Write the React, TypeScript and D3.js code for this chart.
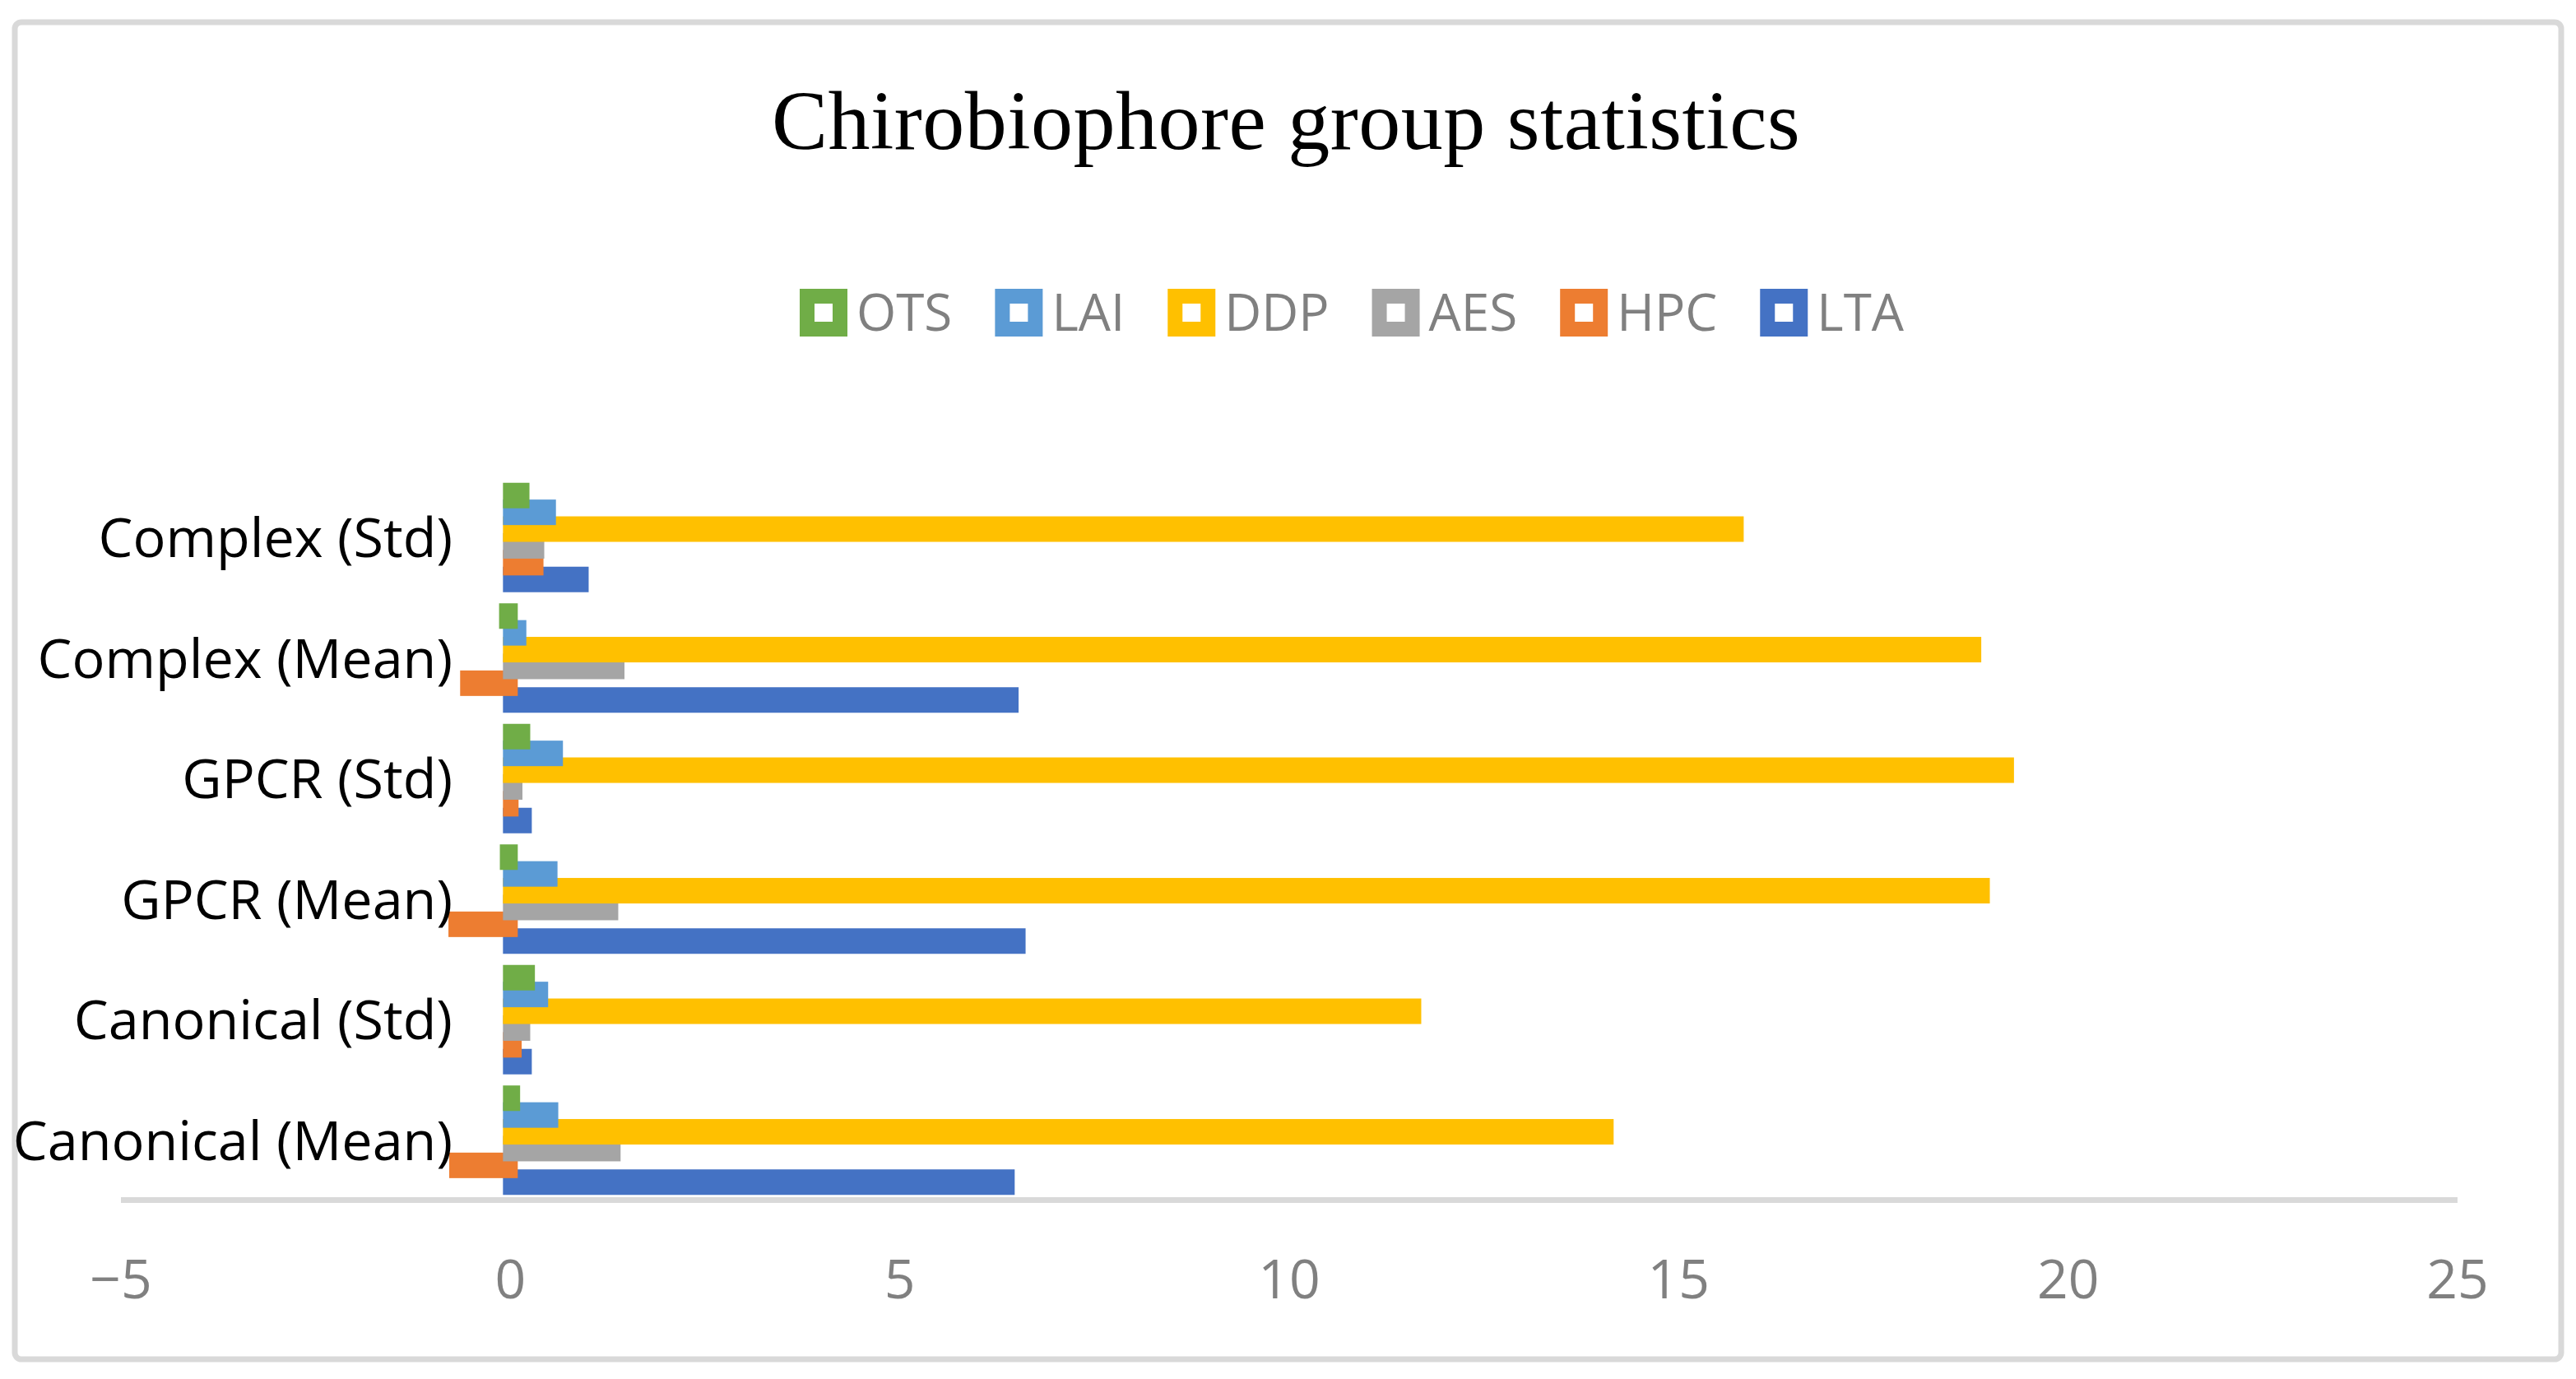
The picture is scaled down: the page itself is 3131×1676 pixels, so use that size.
import React, { useEffect, useRef } from "react";
import * as d3 from "d3";

// Categories in Excel order (first = bottom of the chart)
const categories = [
  "Canonical (Mean)",
  "Canonical (Std)",
  "GPCR (Mean)",
  "GPCR (Std)",
  "Complex (Mean)",
  "Complex (Std)",
];

// Series values, aligned with categories
const LTA = [6.38, 0.18, 6.52, 0.18, 6.43, 0.91];
const HPC = [-0.69, 0.05, -0.7, 0.01, -0.55, 0.33];
const AES = [1.32, 0.16, 1.29, 0.06, 1.37, 0.34];
const DDP = [14.07, 11.6, 18.9, 19.21, 18.79, 15.74];
const LAI = [0.52, 0.39, 0.51, 0.58, 0.11, 0.49];
const OTS = [0.03, 0.22, -0.04, 0.16, -0.05, 0.15];

// Series in drawing order (first drawn lowest in each group)
const seriesNames = ["LTA", "HPC", "AES", "DDP", "LAI", "OTS"];
const seriesValues = [LTA, HPC, AES, DDP, LAI, OTS];
const seriesColors = ["#4472C4", "#ED7D31", "#A5A5A5", "#FFC000", "#5B9BD5", "#70AD47"];

// Legend order as shown
const legendOrder = ["OTS", "LAI", "DDP", "AES", "HPC", "LTA"];

const xTicks = [-5, 0, 5, 10, 15, 20, 25];
const title = "Chirobiophore group statistics";

const W = 3131;
const H = 1676;

export default function App() {
  const ref = useRef<SVGSVGElement | null>(null);

  useEffect(() => {
    const svg = d3.select(ref.current);
    svg.selectAll("*").remove();

    const x = d3.scaleLinear().domain([-5, 25]).range([147, 2987]);
    const y = d3
      .scaleBand<string>()
      .domain(categories.slice().reverse())
      .range([580, 1459])
      .paddingInner(0)
      .paddingOuter(0);
    const inner = d3
      .scaleBand<string>()
      .domain(seriesNames.slice().reverse())
      .range([-61.2, 61.2]);

    const stroke = 18;
    const fillH = 13;
    const colorOf = (s: string) => seriesColors[seriesNames.indexOf(s)];

    // chart border
    svg
      .append("rect")
      .attr("x", 18)
      .attr("y", 27)
      .attr("width", 3095)
      .attr("height", 1625)
      .attr("rx", 8)
      .attr("fill", "#ffffff")
      .attr("stroke", "#d9d9d9")
      .attr("stroke-width", 7);

    // title
    svg
      .append("text")
      .attr("x", 1563)
      .attr("y", 181)
      .attr("text-anchor", "middle")
      .attr("font-family", "'Liberation Serif', 'Times New Roman', serif")
      .attr("font-size", 102)
      .attr("letter-spacing", 0.5)
      .attr("fill", "#000000")
      .text(title);

    // legend
    const lg = svg.append("g");
    let lx = 972;
    const markerOuter = 58;
    const ly = 380;
    legendOrder.forEach((name) => {
      const c = colorOf(name);
      lg.append("rect")
        .attr("x", lx + stroke / 2)
        .attr("y", ly - markerOuter / 2 + stroke / 2)
        .attr("width", markerOuter - stroke)
        .attr("height", markerOuter - stroke)
        .attr("fill", "#ffffff")
        .attr("stroke", c)
        .attr("stroke-width", stroke);
      const t = lg
        .append("text")
        .attr("x", lx + markerOuter + 11)
        .attr("y", ly + 22)
        .attr("font-family", "'Open Sans', sans-serif")
        .attr("font-size", 62)
        .attr("fill", "#808080")
        .text(name);
      const w = (t.node() as SVGTextElement).getComputedTextLength();
      lx = lx + markerOuter + 11 + w + 52;
    });

    // axis line at bottom
    svg
      .append("line")
      .attr("x1", x(-5))
      .attr("x2", x(25))
      .attr("y1", 1458.5)
      .attr("y2", 1458.5)
      .attr("stroke", "#d9d9d9")
      .attr("stroke-width", 7);

    // bars
    const bars = svg.append("g");
    seriesNames.forEach((s, si) => {
      const vals = seriesValues[si];
      const c = seriesColors[si];
      bars
        .selectAll(null)
        .data(categories.map((cat, i) => ({ cat, v: vals[i] })))
        .enter()
        .append("rect")
        .attr("x", (d) => x(Math.min(0, d.v)))
        .attr("width", (d) => Math.abs(x(d.v) - x(0)))
        .attr(
          "y",
          (d) =>
            (y(d.cat) as number) +
            y.bandwidth() / 2 +
            (inner(s) as number) +
            inner.bandwidth() / 2 -
            fillH / 2
        )
        .attr("height", fillH)
        .attr("fill", c)
        .attr("stroke", c)
        .attr("stroke-width", stroke);
    });

    // category labels
    svg
      .append("g")
      .selectAll("text")
      .data(categories)
      .enter()
      .append("text")
      .attr("x", 550)
      .attr("y", (d) => (y(d) as number) + y.bandwidth() / 2 + 24)
      .attr("text-anchor", "end")
      .attr("font-family", "'Open Sans', sans-serif")
      .attr("font-size", 66.5)
      .attr("fill", "#000000")
      .text((d) => d);

    // tick labels
    svg
      .append("g")
      .selectAll("text")
      .data(xTicks)
      .enter()
      .append("text")
      .attr("x", (d) => x(d))
      .attr("y", 1578)
      .attr("text-anchor", "middle")
      .attr("font-family", "'Open Sans', sans-serif")
      .attr("font-size", 66)
      .attr("fill", "#808080")
      .text((d) => (d < 0 ? "\u2212" + Math.abs(d) : String(d)));
  }, []);

  return (
    <svg
      ref={ref}
      width={W}
      height={H}
      viewBox={`0 0 ${W} ${H}`}
      style={{ position: "absolute", left: 0, top: 0, background: "#ffffff" }}
    />
  );
}
